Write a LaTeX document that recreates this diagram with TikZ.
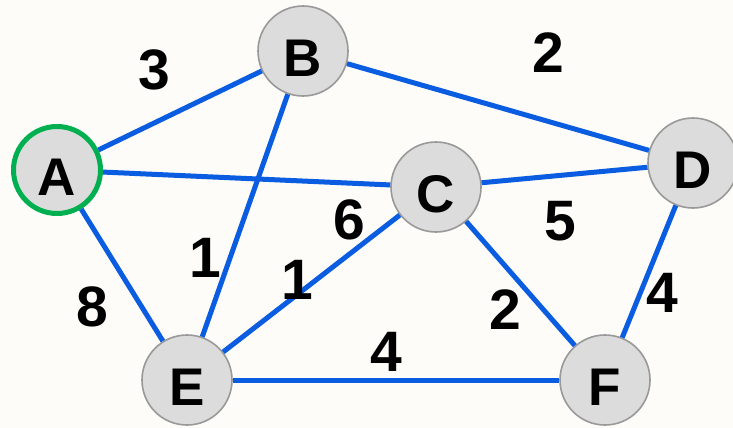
\documentclass[tikz,border=0pt]{standalone}
\usepackage{fontspec}
\setmainfont{Liberation Sans}
\usetikzlibrary{positioning}
\definecolor{bgpaper}{HTML}{FDFCF8}
\definecolor{edgeblue}{HTML}{0A5CE0}
\definecolor{nodegray}{HTML}{DCDCDC}
\definecolor{rimgray}{HTML}{999999}
\definecolor{startgreen}{HTML}{00B050}
\tikzset{
    %Define style for vertices
    vertex/.style={
           circle,
           fill=nodegray,
           draw=rimgray, line width=1.6pt,
           minimum size=90pt,
           inner sep=0pt,
           text height=50pt, text depth=0pt,
           font=\fontsize{53}{56}\selectfont\bfseries},
    start/.style={
           draw=startgreen, line width=5pt},
    % Define edge style
    link/.style={
           draw=edgeblue,
           line width=5pt},
    % Define weight labels
    weight/.style={
           font=\fontsize{57}{60}\selectfont\bfseries}
}
\begin{document}
\begin{tikzpicture}[x=1pt, y=-1pt]
 \fill[bgpaper] (0,0) rectangle (733,428);
 \useasboundingbox (0,0) rectangle (733,428);

 \node[vertex] (B) at (303,51) {B};
 \node[vertex] (C) at (436,187) {C};
 \node[vertex] (D) at (693,163) {D};
 \node[vertex] (E) at (187,380) {E};
 \node[vertex] (F) at (605,380) {F};
 \node[vertex, start, minimum size=87pt] (A) at (57,170) {A};

 % edges
 \path[link] (A) -- (B);
 \path[link] (A) -- (C);
 \path[link] (A) -- (E);
 \path[link] (B) -- (D);
 \path[link] (B) -- (E);
 \path[link] (C) -- (D);
 \path[link] (C) -- (E);
 \path[link] (C) -- (F);
 \path[link] (D) -- (F);
 \path[link] (E) -- (F);

 % weights
 \node[weight] (wAB) at (154,70) {3};
 \node[weight] (wBD) at (548,53) {2};
 \node[weight] (wAC) at (349,220) {6};
 \node[weight] (wCD) at (560,221) {5};
 \node[weight] (wBE) at (205,258) {1};
 \node[weight] (wCE) at (297,280) {1};
 \node[weight] (wAE) at (92,307) {8};
 \node[weight] (wCF) at (505,310) {2};
 \node[weight] (wDF) at (662,293) {4};
 \node[weight] (wEF) at (386,352) {4};
\end{tikzpicture}
\end{document}
